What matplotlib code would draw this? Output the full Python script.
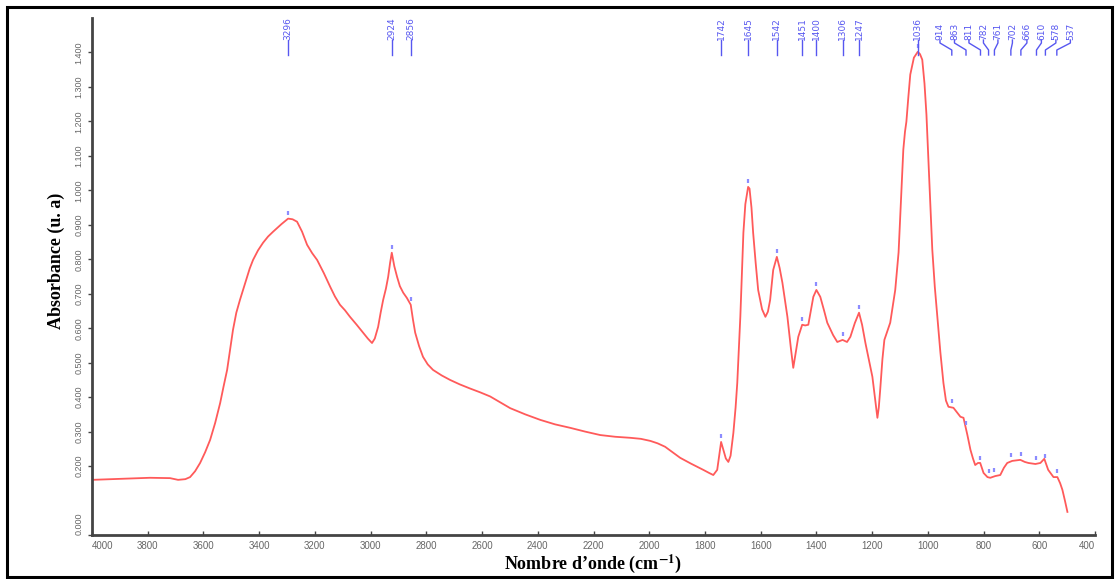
import numpy as np
import matplotlib
matplotlib.use('Agg')
import matplotlib.pyplot as plt
import matplotlib.transforms as mtransforms
from matplotlib.patches import Rectangle

# IR spectrum, absorbance vs wavenumber
wavenumber = [4000, 3900, 3792, 3720, 3691, 3665, 3648, 3630, 3612, 3594, 3576, 3558,
              3540, 3528, 3515, 3504, 3494, 3482, 3469, 3445, 3434, 3422, 3404, 3386,
              3368, 3350, 3320, 3296, 3280, 3264, 3246, 3228, 3210, 3192, 3168, 3145,
              3128, 3110, 3092, 3074, 3050, 3027, 3010, 2995, 2985, 2973, 2964, 2955,
              2945, 2937, 2930, 2924, 2915, 2905, 2895, 2883, 2870, 2856, 2848, 2840,
              2826, 2812, 2795, 2776, 2745, 2715, 2680, 2643, 2607, 2571, 2535, 2499,
              2445, 2391, 2338, 2284, 2230, 2176, 2122, 2068, 2030, 1996, 1970, 1943,
              1916, 1889, 1850, 1806, 1785, 1770, 1756, 1748, 1742, 1734, 1725, 1716,
              1708, 1698, 1690, 1684, 1673, 1662, 1655, 1645, 1640, 1633, 1627, 1618,
              1609, 1595, 1583, 1574, 1566, 1555, 1542, 1532, 1522, 1504, 1492, 1483,
              1474, 1465, 1451, 1440, 1429, 1411, 1400, 1386, 1372, 1361, 1340, 1325,
              1306, 1290, 1278, 1262, 1247, 1236, 1224, 1212, 1199, 1190, 1181, 1176,
              1171, 1163, 1156, 1135, 1117, 1105, 1099, 1093, 1088, 1082, 1077, 1070,
              1063, 1050, 1036, 1028, 1020, 1012, 1005, 995, 984, 975, 966, 955,
              944, 935, 926, 908, 883, 872, 858, 847, 838, 830, 820, 812,
              800, 786, 776, 758, 740, 727, 715, 697, 668, 652, 639, 614,
              596, 582, 575, 568, 549, 535, 525, 517, 508, 499]
absorbance = [0.160, 0.163, 0.166, 0.165, 0.160, 0.162, 0.168, 0.185, 0.209, 0.240, 0.276, 0.325,
              0.383, 0.430, 0.479, 0.540, 0.595, 0.645, 0.682, 0.745, 0.773, 0.798, 0.826, 0.848,
              0.866, 0.880, 0.902, 0.918, 0.916, 0.909, 0.880, 0.842, 0.818, 0.798, 0.760, 0.720,
              0.692, 0.668, 0.652, 0.633, 0.610, 0.587, 0.570, 0.557, 0.570, 0.604, 0.645, 0.682,
              0.715, 0.749, 0.790, 0.819, 0.780, 0.749, 0.722, 0.703, 0.688, 0.668, 0.625, 0.587,
              0.548, 0.517, 0.495, 0.479, 0.463, 0.450, 0.437, 0.425, 0.414, 0.402, 0.385, 0.368,
              0.350, 0.334, 0.321, 0.311, 0.300, 0.290, 0.285, 0.282, 0.279, 0.273, 0.266, 0.256,
              0.240, 0.224, 0.207, 0.189, 0.180, 0.174, 0.189, 0.235, 0.270, 0.247, 0.222, 0.212,
              0.230, 0.296, 0.370, 0.441, 0.633, 0.877, 0.960, 1.010, 1.005, 0.950, 0.877, 0.790,
              0.711, 0.655, 0.633, 0.648, 0.682, 0.769, 0.807, 0.775, 0.732, 0.633, 0.545, 0.485,
              0.530, 0.575, 0.610, 0.608, 0.610, 0.691, 0.711, 0.691, 0.650, 0.616, 0.580, 0.560,
              0.566, 0.560, 0.575, 0.615, 0.645, 0.610, 0.557, 0.510, 0.459, 0.400, 0.340, 0.370,
              0.421, 0.510, 0.566, 0.616, 0.711, 0.820, 0.923, 1.020, 1.118, 1.170, 1.199, 1.270,
              1.336, 1.385, 1.402, 1.395, 1.379, 1.310, 1.220, 1.030, 0.828, 0.720, 0.633, 0.530,
              0.441, 0.390, 0.372, 0.369, 0.343, 0.340, 0.290, 0.247, 0.222, 0.203, 0.209, 0.209,
              0.180, 0.168, 0.166, 0.171, 0.174, 0.195, 0.209, 0.215, 0.218, 0.212, 0.209, 0.206,
              0.209, 0.221, 0.205, 0.189, 0.168, 0.168, 0.150, 0.131, 0.100, 0.067]

peaks = [3296, 2924, 2856, 1742, 1645, 1542, 1451, 1400, 1306, 1247, 1036,
         914, 863, 811, 782, 761, 702, 666, 610, 578, 537]

xticks = list(range(4000, 399, -200))
yticks = [0.0, 0.2, 0.3, 0.4, 0.5, 0.6, 0.7, 0.8, 0.9, 1.0, 1.1, 1.2, 1.3, 1.4]

PEAK_BLUE = '#5757f0'
TICK_GRAY = '#666666'
plt.rcParams['mathtext.fontset'] = 'stix'

fig = plt.figure(figsize=(11.15, 5.79), dpi=100)
ax = fig.add_axes([92/1115, 44/579, 1003/1115, 517/579])

ax.plot(wavenumber, absorbance, color='#ff5a5a', lw=1.3)
ax.set_xlim(4000, 400)
ax.set_ylim(0, 1.5)

# small peak pick marks sitting just above the trace
wn_asc = np.array(wavenumber[::-1])
ab_asc = np.array(absorbance[::-1])
peak_abs = np.interp(peaks, wn_asc, ab_asc)
mark_trans = mtransforms.offset_copy(ax.transData, fig=fig, x=0, y=6, units='dots')
ax.plot(peaks, peak_abs, ls='none', marker='|', ms=3.5, mew=1.6,
        color='#8c8cff', transform=mark_trans)

# spread crowded peak labels: merge neighbouring groups until none collide
min_gap = 52
groups = [[p] for p in peaks]

def spread(g):
    c = np.mean(g)
    n = len(g)
    return [c + ((n - 1) / 2 - i) * min_gap for i in range(n)]

merged = True
while merged:
    merged = False
    for k in range(len(groups) - 1):
        if spread(groups[k])[-1] - spread(groups[k + 1])[0] < min_gap - 0.5:
            groups[k] = groups[k] + groups.pop(k + 1)
            merged = True
            break
label_pos = [x for g in groups for x in spread(g)]

def ya(py):
    # pixel row -> axes fraction
    return (535 - py) / 517

top = mtransforms.blended_transform_factory(ax.transData, ax.transAxes)
for p, lx in zip(peaks, label_pos):
    if abs(lx - p) < 3:
        ax.plot([p, p], [ya(40), ya(55)], color=PEAK_BLUE, lw=1.0,
                transform=top, clip_on=False)
    else:
        ax.plot([lx, lx, p, p], [ya(40), ya(43), ya(50), ya(55)], color=PEAK_BLUE,
                lw=1.0, transform=top, clip_on=False)
    ax.text(lx, ya(40), str(p), rotation=90, ha='center', va='bottom',
            fontsize=6.5, color=PEAK_BLUE, family='Liberation Sans Narrow',
            transform=top)

for s in ['top', 'right']:
    ax.spines[s].set_visible(False)
for s in ['left', 'bottom']:
    ax.spines[s].set_color('#444444')
    ax.spines[s].set_linewidth(2)

ax.set_xticks(xticks)
ax.set_xticklabels([str(t) for t in xticks], fontsize=7, color=TICK_GRAY,
                   family='Liberation Sans')
ax.tick_params(axis='x', direction='in', length=3, width=1, color='#444444', pad=4)
xl = ax.get_xticklabels()
xl[0].set_ha('left')
xl[-1].set_ha('right')

ax.set_yticks(yticks)
ax.set_yticklabels(['%.3f' % t for t in yticks], fontsize=6.5, color=TICK_GRAY,
                   rotation=90, va='center', family='Liberation Sans')
ax.tick_params(axis='y', direction='out', length=3, width=1, color='#444444', pad=3)
ax.get_yticklabels()[0].set_va('bottom')

ax.set_xlabel(r'Nombre d’onde (cm$^{\mathbf{-1}}$)', fontsize=13, fontweight='bold',
              family='Liberation Serif', labelpad=1)
ax.set_ylabel('Absorbance (u. a)', fontsize=13, fontweight='bold',
              family='Liberation Serif')
ax.yaxis.set_label_coords(-27/1003, 0.53)

# frame around the whole figure
fig.patches.append(Rectangle((7/1115, 2/579), 1105/1115, 570/579, fill=False,
                             ec='black', lw=2.2, transform=fig.transFigure))

plt.savefig('out.png', dpi=100)
